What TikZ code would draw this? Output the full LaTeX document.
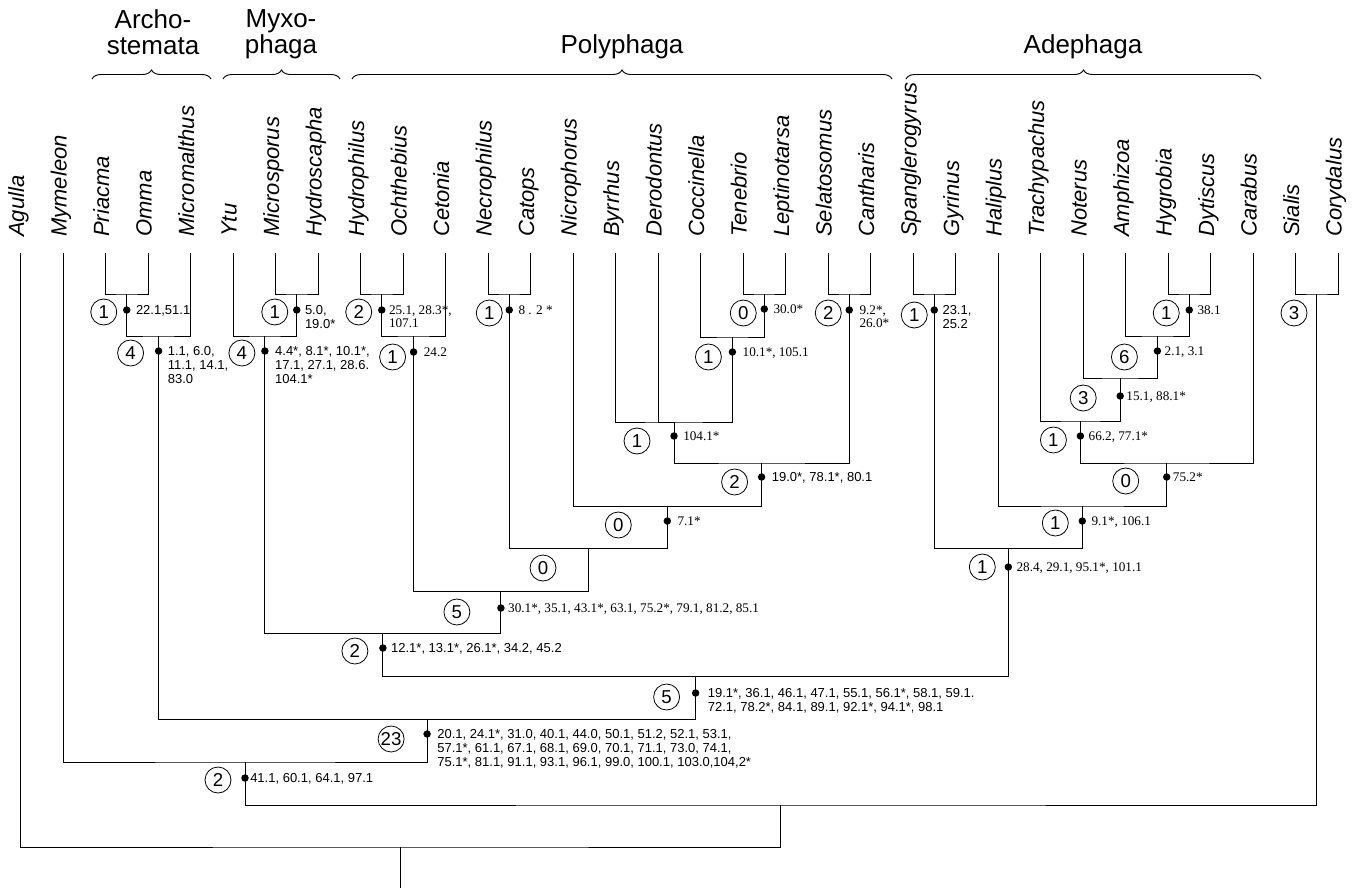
\documentclass[tikz,border=0pt]{standalone}
\usepackage{fontspec}
\setmainfont{Liberation Sans}
\newfontfamily\lsans{Liberation Sans}
\newfontfamily\lserif{Liberation Serif}
\usetikzlibrary{decorations.pathreplacing}
\newcommand\synapo[9]{%
  \node[syn] (d#1) at (#2,#3) {};
  \node[cnum] (c#1) at ({#2+#4},#5) {#6};
  \node[#7] (s#1) at ({#2+#9},{#3-4.7}) {#8};
}
\begin{document}
\begin{tikzpicture}[x=0.75pt,y=-0.75pt,
  branch/.style={line width=0.7pt},
  taxon/.style={rotate=90,anchor=mid west,inner sep=0pt,font=\fontsize{16.5}{19}\selectfont\itshape},
  grp/.style={align=center,inner sep=0pt,font=\fontsize{19.5}{19.5}\selectfont},
  grpbrace/.style={line width=0.7pt,decorate,decoration={brace,amplitude=6.75pt}},
  cnum/.style={circle,draw,line width=0.6pt,minimum size=19.5pt,inner sep=0pt,font=\fontsize{14}{14}\selectfont},
  syn/.style={circle,fill,inner sep=0pt,minimum size=5.6pt},
  chs/.style={anchor=north west,align=left,inner sep=0pt,font=\fontsize{9.75}{10.3}\selectfont\lsans},
  chr/.style={anchor=north west,align=left,inner sep=0pt,font=\fontsize{9.9}{10}\selectfont\lserif}]
\useasboundingbox (0,0) rectangle (1355,891);

% group headers and braces
\node[grp,anchor=north] (gArch) at (153,9.3) {Archo-\\stemata};
\node[grp,anchor=north] (gMyx) at (281,9.3) {Myxo-\\phaga};
\node[grp,anchor=base] (gPoly) at (622,54) {Polyphaga};
\node[grp,anchor=base] (gAde) at (1083,54) {Adephaga};
\draw[grpbrace] (92,79) -- (211,79);
\draw[grpbrace] (223,79) -- (340,79);
\draw[grpbrace] (352,79) -- (892,79);
\draw[grpbrace] (906,79) -- (1261,79);

% taxa
\foreach \n [count=\i from 0] in {Agulla,Mymeleon,Priacma,Omma,Micromalthus,Ytu,Microsporus,Hydroscapha,Hydrophilus,Ochthebius,Cetonia,Necrophilus,Catops,Nicrophorus,Byrrhus,Derodontus,Coccinella,Tenebrio,Leptinotarsa,Selatosomus,Cantharis,Spanglerogyrus,Gyrinus,Haliplus,Trachypachus,Noterus,Amphizoa,Hygrobia,Dytiscus,Carabus,Sialis,Corydalus}{
  \node[taxon] (t\i) at ({20.5+42.5*\i},237) {\n};
  \coordinate (l\i) at ({20.5+42.5*\i},253);
}

% internal nodes
\coordinate (nPO) at (126.75,294);
\coordinate (nArch) at (158.6,336);
\coordinate (nMH) at (296.75,294);
\coordinate (nMyx) at (264.9,336);
\coordinate (nHO) at (381.75,294);
\coordinate (nHOC) at (413.6,336);
\coordinate (nNC) at (509.25,294);
\coordinate (nTL) at (764.25,294);
\coordinate (nCTL) at (732.4,337);
\coordinate (nBDC) at (674,422);
\coordinate (nSC) at (849.25,294);
\coordinate (nBS) at (761.6,463);
\coordinate (nNicro) at (667.3,506);
\coordinate (nNecro) at (588.3,548);
\coordinate (nCet) at (500.9,591);
\coordinate (nMP) at (382.9,633);
\coordinate (nSG) at (934.25,294);
\coordinate (nHD) at (1189.25,294);
\coordinate (nAHD) at (1157.4,336);
\coordinate (nNAHD) at (1120.2,378);
\coordinate (nTN) at (1080.4,421);
\coordinate (nTC) at (1166.7,463);
\coordinate (nHal) at (1082.3,506);
\coordinate (nAde) at (1008.3,548);
\coordinate (nMPA) at (695.6,676);
\coordinate (nCol) at (427.1,719);
\coordinate (nMyr) at (245,762);
\coordinate (nSiC) at (1316.75,294);
\coordinate (nNeur) at (780.9,805);
\coordinate (root) at (400.7,847);
\coordinate (rootend) at (400.7,888);

% branches
\draw[branch] (l2) |- (nPO) -| (l3);
\draw[branch] (nPO) |- (nArch) -| (l4);
\draw[branch] (nArch) |- (nCol);
\draw[branch] (l6) |- (nMH) -| (l7);
\draw[branch] (l5) |- (nMyx) -| (nMH);
\draw[branch] (nMyx) |- (nMP);
\draw[branch] (l8) |- (nHO) -| (l9);
\draw[branch] (nHO) |- (nHOC) -| (l10);
\draw[branch] (nHOC) |- (nCet);
\draw[branch] (l11) |- (nNC) -| (l12);
\draw[branch] (nNC) |- (nNecro);
\draw[branch] (l13) |- (nNicro);
\draw[branch] (l17) |- (nTL) -| (l18);
\draw[branch] (l16) |- (nCTL) -| (nTL);
\draw[branch] (l14) |- (nBDC) -| (nCTL);
\draw[branch] (l15) |- (nBDC);
\draw[branch] (l19) |- (nSC) -| (l20);
\draw[branch] (nBDC) |- (nBS) -| (nSC);
\draw[branch] (nBS) |- (nNicro);
\draw[branch] (nNicro) |- (nNecro);
\draw[branch] (nNecro) |- (nCet);
\draw[branch] (nCet) |- (nMP);
\draw[branch] (nMP) |- (nMPA);
\draw[branch] (l21) |- (nSG) -| (l22);
\draw[branch] (nSG) |- (nAde);
\draw[branch] (l27) |- (nHD) -| (l28);
\draw[branch] (l26) |- (nAHD) -| (nHD);
\draw[branch] (l25) |- (nNAHD) -| (nAHD);
\draw[branch] (l24) |- (nTN) -| (nNAHD);
\draw[branch] (nTN) |- (nTC) -| (l29);
\draw[branch] (l23) |- (nHal) -| (nTC);
\draw[branch] (nHal) |- (nAde);
\draw[branch] (nAde) |- (nMPA);
\draw[branch] (nMPA) |- (nCol);
\draw[branch] (l1) |- (nMyr) -| (nCol);
\draw[branch] (l30) |- (nSiC) -| (l31);
\draw[branch] (nMyr) |- (nNeur) -| (nSiC);
\draw[branch] (l0) |- (root) -| (nNeur);
\draw[branch] (root) -- (rootend);

% character states
\synapo{PO}{126.75}{310}{-23}{312}{1}{chs}{22.1,51.1}{9}
\synapo{Arch}{158.6}{351}{-28}{353}{4}{chs}{1.1, 6.0,\\11.1, 14.1,\\83.0}{9}
\synapo{MH}{296.75}{310}{-22}{312}{1}{chs}{5.0,\\19.0*}{8}
\synapo{Myx}{264.9}{351}{-23}{353}{4}{chs}{4.4*, 8.1*, 10.1*,\\17.1, 27.1, 28.6.\\104.1*}{10}
\synapo{HO}{381.75}{310}{-23}{312}{2}{chr}{25.1, 28.3*,\\107.1}{7}
\synapo{HOC}{413.6}{352}{-21}{357}{1}{chr}{24.2}{10}
\synapo{NC}{509.25}{310}{-20}{313}{1}{chr}{8 . 2 *}{9}
\synapo{TL}{764.25}{309}{-21}{313}{0}{chr}{30.0*}{9}
\synapo{CTL}{732.4}{352}{-24}{357}{1}{chr}{10.1*, 105.1}{10}
\synapo{BDC}{674}{436}{-37}{441}{1}{chr}{104.1*}{9}
\synapo{SC}{849.25}{310}{-21}{313}{2}{chr}{9.2*,\\26.0*}{10}
\synapo{BS}{761.6}{477}{-27}{482}{2}{chs}{19.0*, 78.1*, 80.1}{10}
\synapo{Nicro}{667.3}{521}{-49}{525}{0}{chr}{7.1*}{10}
\node[cnum] (cNecro) at (543,568) {0};
\synapo{Cet}{500.9}{608}{-44}{612}{5}{chr}{30.1*, 35.1, 43.1*, 63.1, 75.2*, 79.1, 81.2, 85.1}{7}
\synapo{MP}{382.9}{648}{-28}{651}{2}{chs}{12.1*, 13.1*, 26.1*, 34.2, 45.2}{8}
\synapo{SG}{934.25}{310}{-20}{315}{1}{chs}{23.1,\\25.2}{8}
\synapo{HD}{1189.25}{310}{-23}{313}{1}{chr}{38.1}{8}
\synapo{AHD}{1157.4}{351}{-33}{357}{6}{chr}{2.1, 3.1}{7}
\synapo{NAHD}{1120.2}{396}{-37}{398}{3}{chr}{15.1, 88.1*}{6}
\synapo{TN}{1080.4}{436}{-27}{440}{1}{chr}{66.2, 77.1*}{8}
\synapo{TC}{1166.7}{477}{-41}{481}{0}{chr}{75.2*}{6}
\synapo{Hal}{1082.3}{521}{-27}{523}{1}{chr}{9.1*, 106.1}{9}
\synapo{Ade}{1008.3}{567}{-26}{567}{1}{chr}{28.4, 29.1, 95.1*, 101.1}{8}
\synapo{MPA}{695.6}{693}{-29}{697}{5}{chs}{19.1*, 36.1, 46.1, 47.1, 55.1, 56.1*, 58.1, 59.1.\\72.1, 78.2*, 84.1, 89.1, 92.1*, 94.1*, 98.1}{12}
\synapo{Col}{427.1}{734}{-36}{739}{23}{chs}{20.1, 24.1*, 31.0, 40.1, 44.0, 50.1, 51.2, 52.1, 53.1,\\57.1*, 61.1, 67.1, 68.1, 69.0, 70.1, 71.1, 73.0, 74.1,\\75.1*, 81.1, 91.1, 93.1, 96.1, 99.0, 100.1, 103.0,104,2*}{10}
\synapo{Myr}{245}{778}{-27}{780}{2}{chs}{41.1, 60.1, 64.1, 97.1}{5}
\node[cnum] (cSiC) at (1294,313) {3};
\end{tikzpicture}
\end{document}
